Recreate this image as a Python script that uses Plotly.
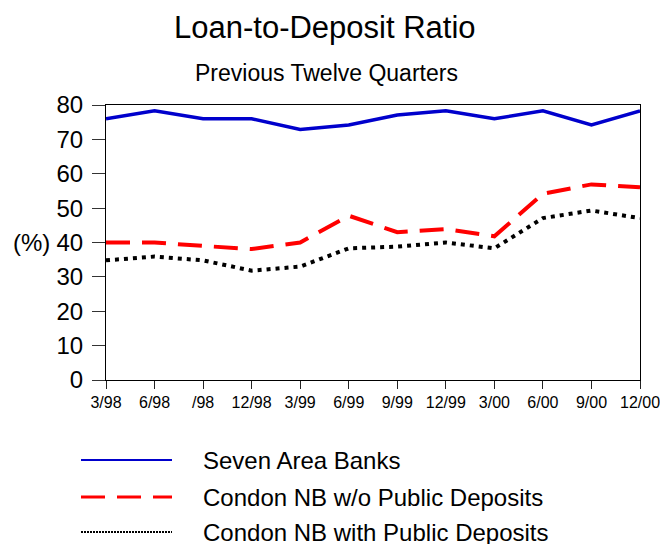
import plotly.graph_objects as go

quarters = ["3/98", "6/98", "/98", "12/98", "3/99", "6/99", "9/99", "12/99", "3/00", "6/00", "9/00", "12/00"]
seven_area_banks = [76, 78.3, 76, 76, 72.9, 74.2, 77.1, 78.3, 76, 78.3, 74.2, 78.3]
condon_wo_public = [40, 40, 39, 38.1, 40, 47.8, 43, 43.9, 41.8, 54.2, 56.9, 56.1]
condon_with_public = [34.8, 35.9, 34.8, 31.8, 33, 38.3, 38.8, 40, 38.3, 47.1, 49.3, 47.1]
y_ticks = [0, 10, 20, 30, 40, 50, 60, 70, 80]

FONT = "Liberation Sans, Arial, sans-serif"
W, H = 660, 544
L, R, T, B = 106, 20, 105, 164
PW, PH = W - L - R, H - T - B

def px(x):
    return (x - L) / PW

def py(y):
    return (H - B - y) / PH

series = [
    ("Seven Area Banks", seven_area_banks, "#0000CC", 3.5, "solid", 2, "solid"),
    ("Condon NB w/o Public Deposits", condon_wo_public, "#FF0000", 4, "24px,12px", 3, "24px,12px"),
    ("Condon NB with Public Deposits", condon_with_public, "#000000", 4, "4px,5px", 2, "2px,1px"),
]

fig = go.Figure()
for name, vals, color, w, dash, _, _ in series:
    fig.add_trace(go.Scatter(x=list(range(len(quarters))), y=vals, mode="lines", name=name,
                             line=dict(color=color, width=w, dash=dash), showlegend=False))

shapes = []
annotations = []
legend_rows = [460, 497, 532]
for (name, vals, color, w, dash, lw, ldash), yrow in zip(series, legend_rows):
    shapes.append(dict(type="line", xref="paper", yref="paper", x0=px(81), x1=px(172),
                       y0=py(yrow), y1=py(yrow), line=dict(color=color, width=lw, dash=ldash)))
    annotations.append(dict(text=name, xref="paper", yref="paper", x=px(201), y=py(yrow),
                            xanchor="left", yanchor="middle", showarrow=False,
                            font=dict(family=FONT, size=24, color="#000")))

annotations.append(dict(text="(%)", xref="paper", yref="y", x=0, y=40, xanchor="right",
                        yanchor="middle", xshift=-54, showarrow=False,
                        font=dict(family=FONT, size=24, color="#000")))
annotations.append(dict(text="Loan-to-Deposit Ratio", xref="paper", yref="paper", x=px(325), y=py(28),
                        xanchor="center", yanchor="middle", showarrow=False,
                        font=dict(family=FONT, size=31, color="#000")))
annotations.append(dict(text="Previous Twelve Quarters", xref="paper", yref="paper", x=px(326), y=py(73),
                        xanchor="center", yanchor="middle", showarrow=False,
                        font=dict(family=FONT, size=23, color="#000")))

fig.update_layout(
    width=W, height=H,
    margin=dict(l=L, r=R, t=T, b=B, autoexpand=False),
    paper_bgcolor="white", plot_bgcolor="white",
    shapes=shapes, annotations=annotations,
    showlegend=False,
    xaxis=dict(range=[0, len(quarters) - 1], tickvals=list(range(len(quarters))), ticktext=quarters,
               showgrid=False, zeroline=False, showline=True, linecolor="#000", linewidth=1,
               mirror=True, ticks="outside", ticklen=8, tickcolor="#222", tickwidth=1,
               ticklabeloverflow="allow", automargin=False,
               tickfont=dict(family=FONT, size=16, color="#000")),
    yaxis=dict(range=[0, 80], tickvals=y_ticks, showgrid=False, zeroline=False, showline=True,
               linecolor="#000", linewidth=1, mirror=True, ticks="outside", ticklen=13,
               tickcolor="#333", tickwidth=1, automargin=False, ticklabelstandoff=4,
               tickfont=dict(family=FONT, size=24, color="#000")),
)

fig.write_html(
    "out.html",
    config={"displayModeBar": False},
    post_script="document.body.style.margin='0';document.documentElement.style.overflow='hidden';document.body.style.overflow='hidden';",
)
